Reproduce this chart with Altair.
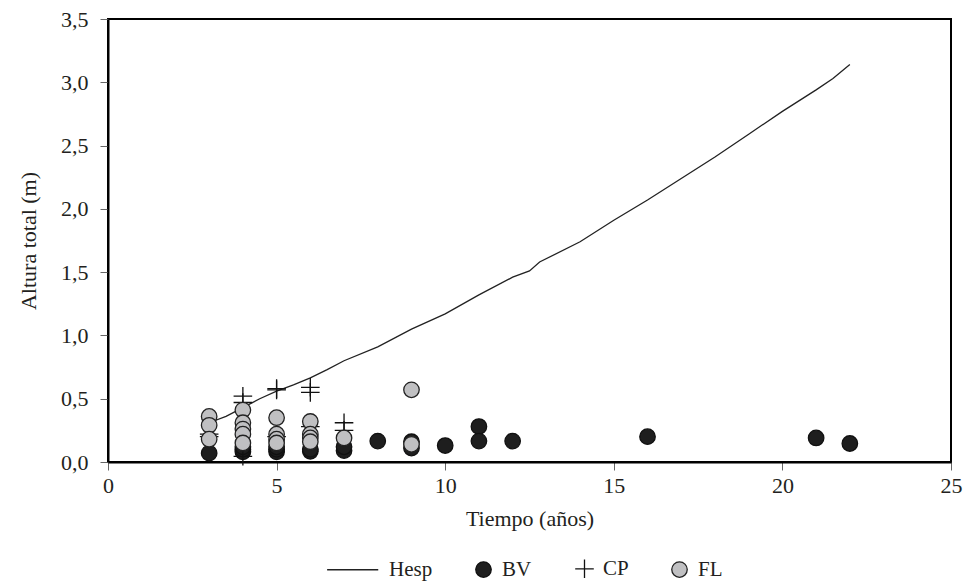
import altair as alt
import pandas as pd

# Hesp curve (Tiempo in years, Altura in m)
hesp_t = [3, 3.5, 4, 4.5, 5, 5.5, 6, 6.5, 7, 8, 9, 10, 11, 12, 12.5, 12.8, 14, 15, 16, 17, 18, 19, 20, 21, 21.5, 22]
hesp_h = [0.31, 0.36, 0.43, 0.50, 0.56, 0.61, 0.665, 0.73, 0.80, 0.91, 1.05, 1.17, 1.32, 1.46, 1.51, 1.58,
          1.74, 1.91, 2.07, 2.24, 2.41, 2.59, 2.77, 2.94, 3.03, 3.14]

# BV (black circles)
bv_t = [3, 4, 4, 4, 5, 5, 5, 6, 6, 7, 7, 8, 9, 9, 10, 11, 11, 12, 16, 21, 22]
bv_h = [0.07, 0.08, 0.10, 0.12, 0.08, 0.10, 0.12, 0.085, 0.10, 0.09, 0.12, 0.165, 0.11, 0.16, 0.13,
        0.28, 0.165, 0.165, 0.20, 0.19, 0.146]

# CP (crosses)
cp_t = [3, 3, 4, 4, 4, 5, 5, 5, 6, 6, 6, 7, 7]
cp_h = [0.20, 0.22, 0.52, 0.47, 0.045, 0.57, 0.58, 0.20, 0.59, 0.55, 0.28, 0.31, 0.25]

# FL (grey circles)
fl_t = [3, 3, 3, 4, 4, 4, 4, 4, 5, 5, 5, 5, 6, 6, 6, 6, 7, 9, 9]
fl_h = [0.36, 0.29, 0.18, 0.41, 0.31, 0.26, 0.22, 0.15, 0.35, 0.22, 0.18, 0.15, 0.32, 0.22, 0.19, 0.16,
        0.19, 0.57, 0.14]

series_order = ["Hesp", "BV", "CP", "FL"]
x_ticks = [0, 5, 10, 15, 20, 25]
y_ticks = [0, 0.5, 1.0, 1.5, 2.0, 2.5, 3.0, 3.5]

CROSS = "M-1.2,0L1.2,0M0,-1.2L0,1.2"
LINE_SYM = "M-5.6,0L1,0"

line_df = pd.DataFrame({"t": hesp_t, "h": hesp_h, "serie": "Hesp"})
pts = pd.DataFrame({
    "t": bv_t + cp_t + fl_t,
    "h": bv_h + cp_h + fl_h,
    "serie": ["BV"] * len(bv_t) + ["CP"] * len(cp_t) + ["FL"] * len(fl_t),
})

FONT = "Liberation Serif"
TXT = "#231f20"

x = alt.X("t:Q", scale=alt.Scale(domain=[0, 25], nice=False),
          axis=alt.Axis(values=x_ticks, title="Tiempo (años)", format="d", titlePadding=12,
                        labelFlush=False))
y = alt.Y("h:Q", scale=alt.Scale(domain=[0, 3.5], nice=False),
          axis=alt.Axis(values=y_ticks, title="Altura total (m)",
                        labelExpr="replace(format(datum.value, '.1f'), '.', ',')",
                        labelPadding=12, titlePadding=20, labelFlush=False))

leg = alt.Legend(orient="none", legendX=252, legendY=539, direction="horizontal",
                 title=None, labelFont=FONT, labelFontSize=21, labelColor=TXT,
                 labelOffset=8, columnPadding=40, symbolStrokeWidth=1.3, symbolSize=240)

line = alt.Chart(line_df).mark_line(color="#222222", strokeWidth=1.3).encode(x=x, y=y)

points = alt.Chart(pts).mark_point(opacity=1, strokeWidth=1.3, size=240).encode(
    x=x, y=y,
    shape=alt.Shape("serie:N", scale=alt.Scale(domain=series_order,
                    range=[LINE_SYM, "circle", CROSS, "circle"]), legend=leg),
    fill=alt.Fill("serie:N", scale=alt.Scale(domain=series_order,
                  range=["transparent", "#1e1e1e", "transparent", "#c0c0c2"]), legend=leg),
    stroke=alt.Stroke("serie:N", scale=alt.Scale(domain=series_order,
                      range=["#222222", "#111111", "#111111", "#222222"]), legend=leg),
)

chart = alt.layer(line, points).properties(
    width=843, height=443,
    autosize=alt.AutoSizeParams(type="none"),
    padding={"left": 108, "top": 19, "right": 13, "bottom": 121},
    background="white",
).configure_view(
    stroke="black", strokeWidth=2
).configure_axis(
    domainColor="black", domainWidth=2,
    tickColor="#666666", tickSize=8, tickWidth=1,
    labelFont=FONT, labelFontSize=22, labelColor=TXT,
    titleFont=FONT, titleFontSize=22, titleFontWeight="normal", titleColor=TXT,
    grid=False,
).configure_axisX(labelPadding=5)

chart.save("out.html", embed_options={"renderer": "svg", "actions": False})
